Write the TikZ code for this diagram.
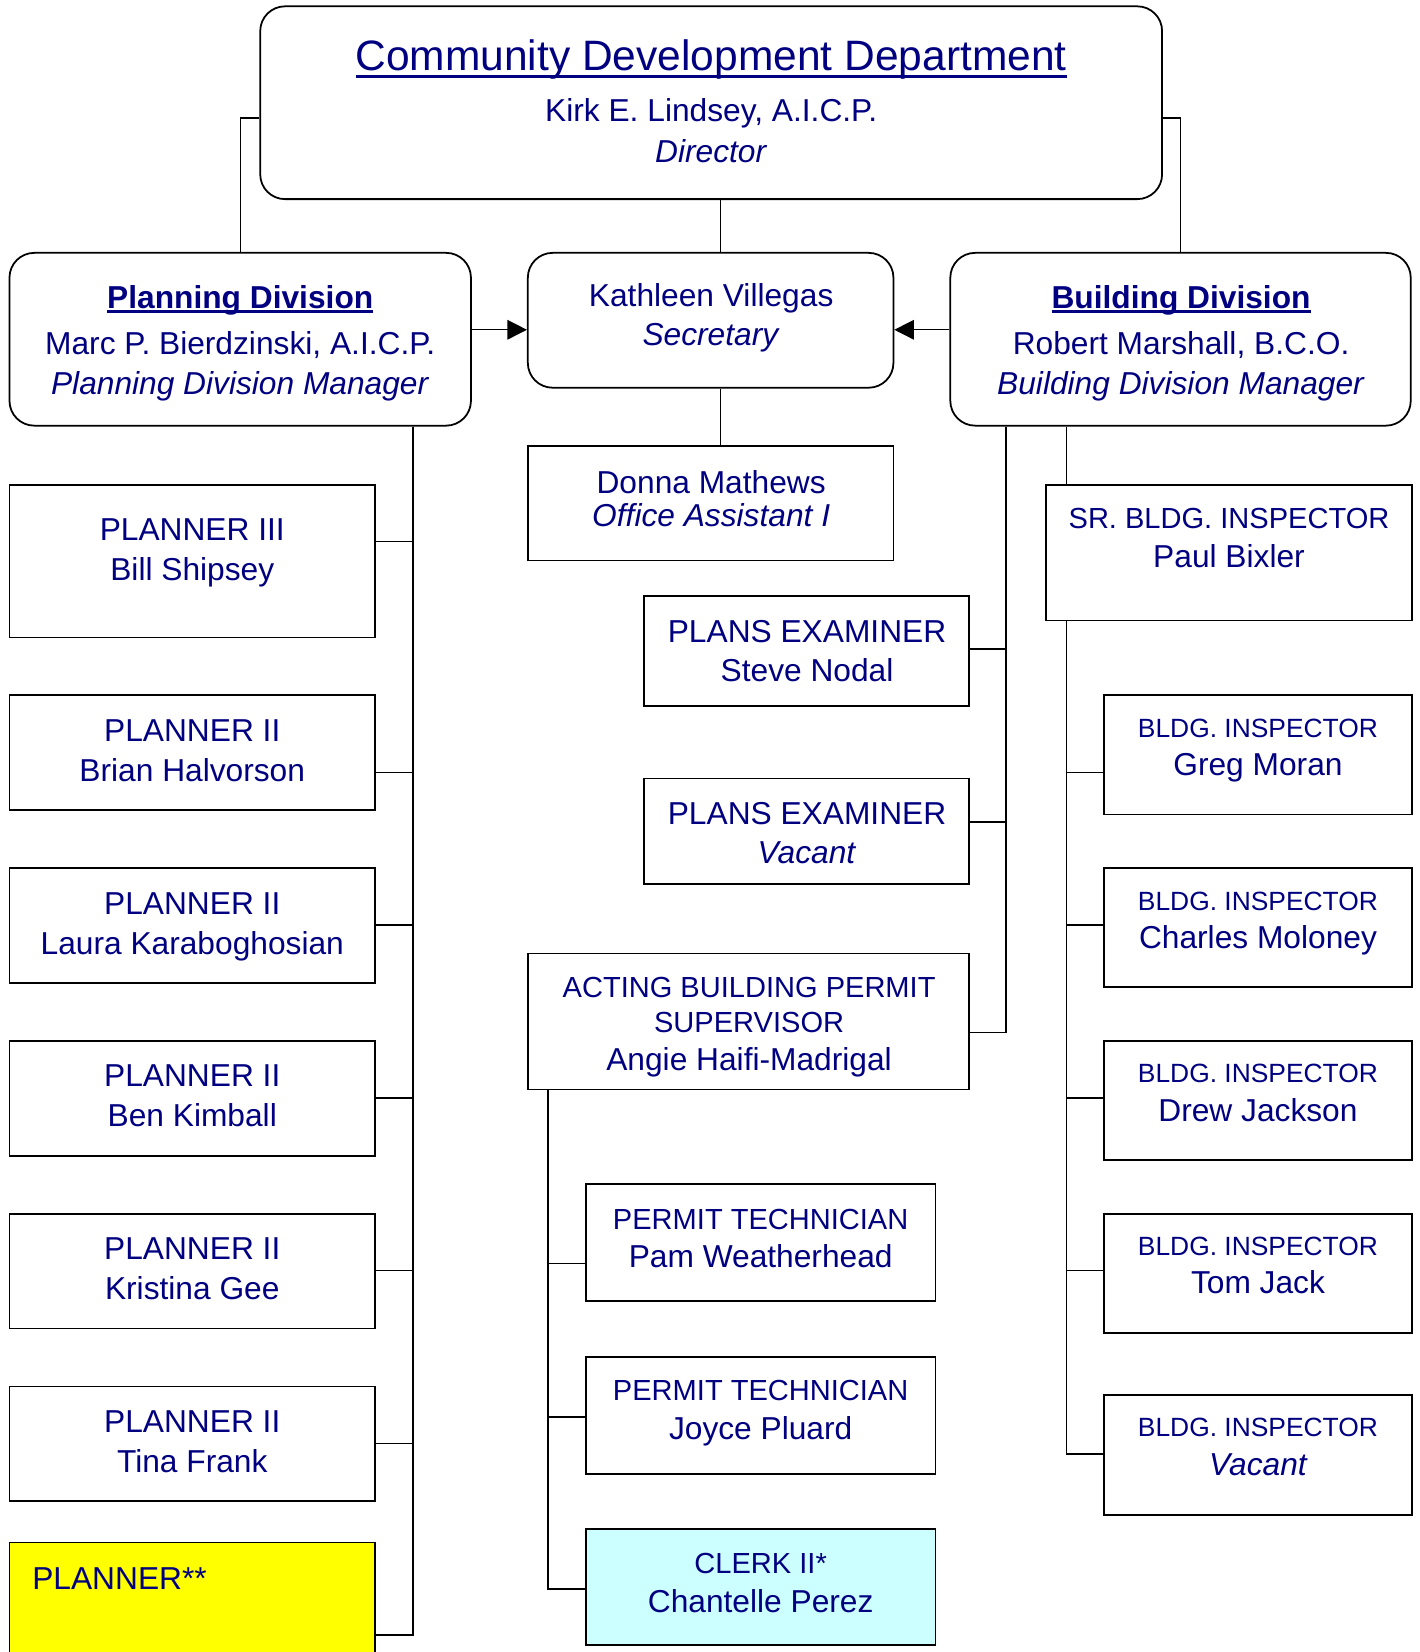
\documentclass[tikz,border=0pt]{standalone}
\usepackage{fontspec}
\setmainfont{Liberation Sans}
\usetikzlibrary{arrows.meta,fit}

\definecolor{navytext}{RGB}{0,0,128}
\definecolor{openyellow}{RGB}{255,255,0}
\definecolor{clerkcyan}{RGB}{204,255,255}

\newcommand{\namesize}{\fontsize{17.9}{22.3}\selectfont}
\newsavebox{\orgulbox}
% #1 depth of rule bottom, #2 thickness, #3 text
\newcommand{\orgul}[3]{\sbox{\orgulbox}{#3}\rlap{\rule[-#1]{\wd\orgulbox}{#2}}\usebox{\orgulbox}}

\tikzset{
  posbox/.style={draw, line width=1pt, inner sep=0pt},
  divbox/.style={posbox, rounded corners=14pt},
  txt/.style={inner sep=0pt, align=center, anchor=north, text=navytext, font=\fontsize{17.9}{22.3}\selectfont},
  link/.style={line width=0.8pt},
  tip/.style={-{Triangle[length=11pt, width=11pt]}},
}

\begin{document}
\begin{tikzpicture}[x=0.5947pt, y=-0.5947pt]
\useasboundingbox (0,0) rectangle (1347,1568);

% department and divisions
\node[divbox, fit={(247,6) (1103,189)}] (dept) {};
\node[divbox, fit={(9,240) (447,404)}] (plan) {};
\node[divbox, fit={(501,240) (848,368)}] (sec) {};
\node[divbox, fit={(902,240) (1339,404)}] (bld) {};
\node[posbox, fit={(501,423) (848,532)}] (donna) {};

% planning staff
\node[posbox, fit={(9,460) (356,605)}] (pl3) {};
\node[posbox, fit={(9,660) (356,769)}] (pl2a) {};
\node[posbox, fit={(9,824) (356,933)}] (pl2b) {};
\node[posbox, fit={(9,988) (356,1097)}] (pl2c) {};
\node[posbox, fit={(9,1152) (356,1261)}] (pl2d) {};
\node[posbox, fit={(9,1316) (356,1425)}] (pl2e) {};
\node[posbox, fill=openyellow, fit={(9,1464) (356,1600)}] (plx) {};

% building staff, left
\node[posbox, fit={(611,566) (920,670)}] (pe1) {};
\node[posbox, fit={(611,739) (920,839)}] (pe2) {};
\node[posbox, fit={(501,905) (920,1034)}] (act) {};
\node[posbox, fit={(556,1124) (888,1235)}] (pt1) {};
\node[posbox, fit={(556,1288) (888,1399)}] (pt2) {};
\node[posbox, fill=clerkcyan, fit={(556,1451) (888,1561)}] (clerk) {};

% building staff, right
\node[posbox, fit={(993,460) (1340,589)}] (sr) {};
\node[posbox, fit={(1048,660) (1340,773)}] (bi1) {};
\node[posbox, fit={(1048,824) (1340,937)}] (bi2) {};
\node[posbox, fit={(1048,988) (1340,1101)}] (bi3) {};
\node[posbox, fit={(1048,1152) (1340,1265)}] (bi4) {};
\node[posbox, fit={(1048,1324) (1340,1438)}] (bi5) {};

% texts
\node[txt, font=\fontsize{17.9}{23.1}\selectfont] (deptt) at (675,37) {{\fontsize{24}{28}\selectfont\orgul{4.2pt}{1.7pt}{Community Development Department}}\\[6pt]Kirk E. Lindsey, A.I.C.P.\\\textit{Director}};
\node[txt, font=\fontsize{17.9}{22.6}\selectfont] (plant) at (228,270.5) {{\bfseries\orgul{2.6pt}{1.4pt}{Planning Division}}\\[3.6pt]Marc P. Bierdzinski, A.I.C.P.\\\textit{Planning Division Manager}};
\node[txt, font=\fontsize{17.9}{22}\selectfont] (sect) at (675,268.5) {Kathleen Villegas\\\textit{Secretary}};
\node[txt, font=\fontsize{17.9}{22.6}\selectfont] (bldt) at (1121,270.5) {{\bfseries\orgul{2.6pt}{1.4pt}{Building Division}}\\[3.6pt]Robert Marshall, B.C.O.\\\textit{Building Division Manager}};
\node[txt, font=\fontsize{17.9}{18.9}\selectfont] (donnat) at (675,446) {Donna Mathews\\\textit{Office Assistant I}};

\node[txt, font=\fontsize{17.9}{22.6}\selectfont] (pl3t) at (182.5,491.5) {PLANNER III\\Bill Shipsey};
\node[txt, font=\fontsize{17.9}{22.6}\selectfont] (pl2at) at (182.5,682.5) {PLANNER II\\Brian Halvorson};
\node[txt, font=\fontsize{17.9}{22.6}\selectfont] (pl2bt) at (182.5,846.5) {PLANNER II\\Laura Karaboghosian};
\node[txt, font=\fontsize{17.9}{22.6}\selectfont] (pl2ct) at (182.5,1010.5) {PLANNER II\\Ben Kimball};
\node[txt, font=\fontsize{17.9}{22.6}\selectfont] (pl2dt) at (182.5,1174.5) {PLANNER II\\Kristina Gee};
\node[txt, font=\fontsize{17.9}{22.6}\selectfont] (pl2et) at (182.5,1338.5) {PLANNER II\\Tina Frank};
\node[txt, anchor=north west] (plxt) at (30.3,1487.7) {PLANNER**};

\node[txt, font=\fontsize{17.9}{22.2}\selectfont] (pe1t) at (766,588) {PLANS EXAMINER\\Steve Nodal};
\node[txt, font=\fontsize{17.9}{22.2}\selectfont] (pe2t) at (766,761) {PLANS EXAMINER\\\textit{Vacant}};
\node[txt, font=\fontsize{16.4}{19.8}\selectfont] (actt) at (711,927) {ACTING BUILDING PERMIT\\SUPERVISOR\\[1.8pt]{\namesize Angie Haifi-Madrigal}};
\node[txt, font=\fontsize{16.4}{21.8}\selectfont] (pt1t) at (722,1147) {PERMIT TECHNICIAN\\{\namesize Pam Weatherhead}};
\node[txt, font=\fontsize{16.4}{21.8}\selectfont] (pt2t) at (722,1310) {PERMIT TECHNICIAN\\{\namesize Joyce Pluard}};
\node[txt, font=\fontsize{16.4}{22}\selectfont] (clerkt) at (722,1474) {CLERK II*\\{\namesize Chantelle Perez}};

\node[txt, font=\fontsize{16.4}{22}\selectfont] (srt) at (1166.5,482) {SR. BLDG. INSPECTOR\\{\namesize Paul Bixler}};
\node[txt, font=\fontsize{14.9}{21.6}\selectfont] (bi1t) at (1194,682) {BLDG. INSPECTOR\\{\namesize Greg Moran}};
\node[txt, font=\fontsize{14.9}{21.6}\selectfont] (bi2t) at (1194,846) {BLDG. INSPECTOR\\{\namesize Charles Moloney}};
\node[txt, font=\fontsize{14.9}{21.6}\selectfont] (bi3t) at (1194,1010) {BLDG. INSPECTOR\\{\namesize Drew Jackson}};
\node[txt, font=\fontsize{14.9}{21.6}\selectfont] (bi4t) at (1194,1174) {BLDG. INSPECTOR\\{\namesize Tom Jack}};
\node[txt, font=\fontsize{14.9}{21.6}\selectfont] (bi5t) at (1194,1346) {BLDG. INSPECTOR\\{\namesize\itshape Vacant}};

% top links
\draw[link] (dept.west |- 0,112) -| (plan.north);
\draw[link] (dept.east |- 0,112) -| (bld.north);
\draw[link] (dept.south -| 684,0) -- (sec.north -| 684,0);
\draw[link] (sec.south -| 684,0) -- (donna.north -| 684,0);
\draw[link, tip] (plan.east |- 0,313) -- (sec.west |- 0,313);
\draw[link, tip] (bld.west |- 0,313) -- (sec.east |- 0,313);

% planning spine
\draw[link] (plan.south -| 392,0) |- (pl3.east |- 0,514);
\draw[link] (plan.south -| 392,0) |- (pl2a.east |- 0,733);
\draw[link] (plan.south -| 392,0) |- (pl2b.east |- 0,878);
\draw[link] (plan.south -| 392,0) |- (pl2c.east |- 0,1042);
\draw[link] (plan.south -| 392,0) |- (pl2d.east |- 0,1206);
\draw[link] (plan.south -| 392,0) |- (pl2e.east |- 0,1370);
\draw[link] (plan.south -| 392,0) |- (plx.east |- 0,1552);

% building spines
\draw[link] (bld.south -| 955,0) |- (pe1.east |- 0,616);
\draw[link] (bld.south -| 955,0) |- (pe2.east |- 0,780);
\draw[link] (bld.south -| 955,0) |- (act.east |- 0,980);
\draw[link] (bld.south -| 1012,0) -- (sr.north -| 1012,0);
\draw[link] (sr.south -| 1012,0) |- (bi1.west |- 0,733);
\draw[link] (sr.south -| 1012,0) |- (bi2.west |- 0,878);
\draw[link] (sr.south -| 1012,0) |- (bi3.west |- 0,1042);
\draw[link] (sr.south -| 1012,0) |- (bi4.west |- 0,1206);
\draw[link] (sr.south -| 1012,0) |- (bi5.west |- 0,1380);

% permit spine
\draw[link] (act.south -| 520,0) |- (pt1.west |- 0,1199);
\draw[link] (act.south -| 520,0) |- (pt2.west |- 0,1345);
\draw[link] (act.south -| 520,0) |- (clerk.west |- 0,1508);
\end{tikzpicture}
\end{document}
